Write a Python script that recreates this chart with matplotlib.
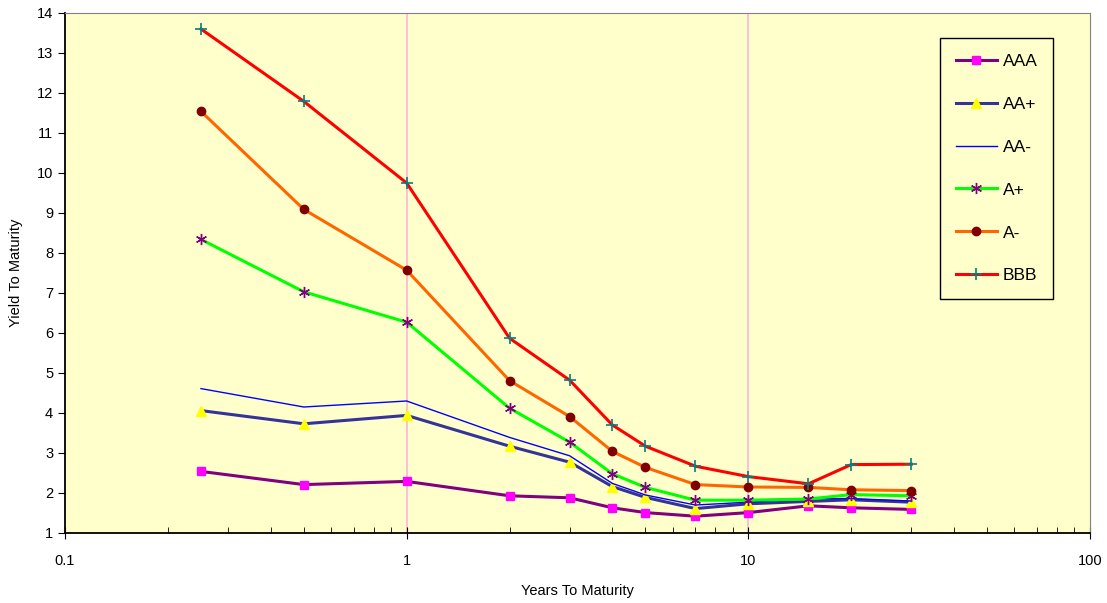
import numpy as np
import matplotlib.pyplot as plt
from matplotlib.ticker import FixedLocator, FuncFormatter, LogLocator, NullFormatter

plt.rcParams['font.family'] = ['Liberation Sans', 'DejaVu Sans']

years = [0.25, 0.5, 1, 2, 3, 4, 5, 7, 10, 15, 20, 30]

aaa = [2.54, 2.21, 2.29, 1.93, 1.88, 1.63, 1.51, 1.42, 1.51, 1.68, 1.63, 1.59]
aa_plus = [4.06, 3.73, 3.94, 3.17, 2.77, 2.16, 1.89, 1.61, 1.73, 1.79, 1.83, 1.77]
aa_minus = [4.61, 4.15, 4.30, 3.39, 2.93, 2.24, 1.95, 1.70, 1.77, 1.86, 1.86, 1.80]
a_plus = [8.34, 7.03, 6.27, 4.12, 3.27, 2.48, 2.14, 1.82, 1.82, 1.85, 1.96, 1.93]
a_minus = [11.54, 9.09, 7.57, 4.81, 3.91, 3.04, 2.64, 2.21, 2.15, 2.14, 2.08, 2.06]
bbb = [13.6, 11.79, 9.75, 5.87, 4.82, 3.70, 3.17, 2.67, 2.41, 2.23, 2.71, 2.72]

fig = plt.figure(figsize=(11.07, 6.03), dpi=100)
ax = fig.add_axes([65 / 1107, 70 / 603, 1025 / 1107, 520 / 603])
ax.set_facecolor('#ffffcc')

ax.plot(years, aaa, color='#800080', lw=2.2, marker='s', ms=6,
        mfc='#ff00ff', mec='#ff00ff', label='AAA')
ax.plot(years, aa_plus, color='#333399', lw=2.2, marker='^', ms=7,
        mfc='#ffff00', mec='#ffff00', label='AA+')
ax.plot(years, aa_minus, color='#0000ff', lw=1.0, label='AA-')
ax.plot(years, a_plus, color='#00ff00', lw=2.2, marker=(6, 2, 0), ms=8,
        mfc='#800080', mec='#800080', mew=1.0, label='A+')
ax.plot(years, a_minus, color='#ff6600', lw=2.2, marker='o', ms=6,
        mfc='#800000', mec='#800000', label='A-')
ax.plot(years, bbb, color='#ff0000', lw=2.2, marker='+', ms=8,
        mfc='#008080', mec='#008080', mew=1.2, label='BBB')

ax.set_xscale('log')
ax.set_xlim(0.1, 100)
ax.set_ylim(1, 14)
ax.set_yticks(range(1, 15))

ax.xaxis.set_major_locator(FixedLocator([0.1, 1, 10, 100]))
ax.xaxis.set_major_formatter(FuncFormatter(lambda v, p: '%g' % v))
ax.xaxis.set_minor_locator(LogLocator(base=10, subs=np.arange(2, 10)))
ax.xaxis.set_minor_formatter(NullFormatter())

for xv in [1, 10]:
    ax.axvline(xv, color='#ffb3d9', lw=1.2, zorder=0)

ax.tick_params(axis='x', which='major', direction='inout', length=8, labelsize=10.5, pad=11)
ax.tick_params(axis='x', which='minor', direction='in', length=4)
ax.tick_params(axis='y', direction='out', length=5, labelsize=10.5)

for s in ['top', 'right']:
    ax.spines[s].set_color('#808080')
for s in ['left', 'bottom']:
    ax.spines[s].set_color('black')
    ax.spines[s].set_linewidth(1.3)

ax.set_xlabel('Years To Maturity', fontsize=10.5, labelpad=12)
ax.set_ylabel('Yield To Maturity', fontsize=10.5, labelpad=10)

leg = ax.legend(loc='upper right', bbox_to_anchor=(1053 / 1107, 565 / 603),
                bbox_transform=fig.transFigure, fontsize=12.5, labelspacing=1.6,
                handlelength=2.4, handletextpad=0.3, borderpad=0.9,
                borderaxespad=0, fancybox=False, framealpha=1, edgecolor='black')
leg.get_frame().set_facecolor('#ffffcc')
leg.get_frame().set_linewidth(1.0)

fig.savefig('out.png', dpi=100)
